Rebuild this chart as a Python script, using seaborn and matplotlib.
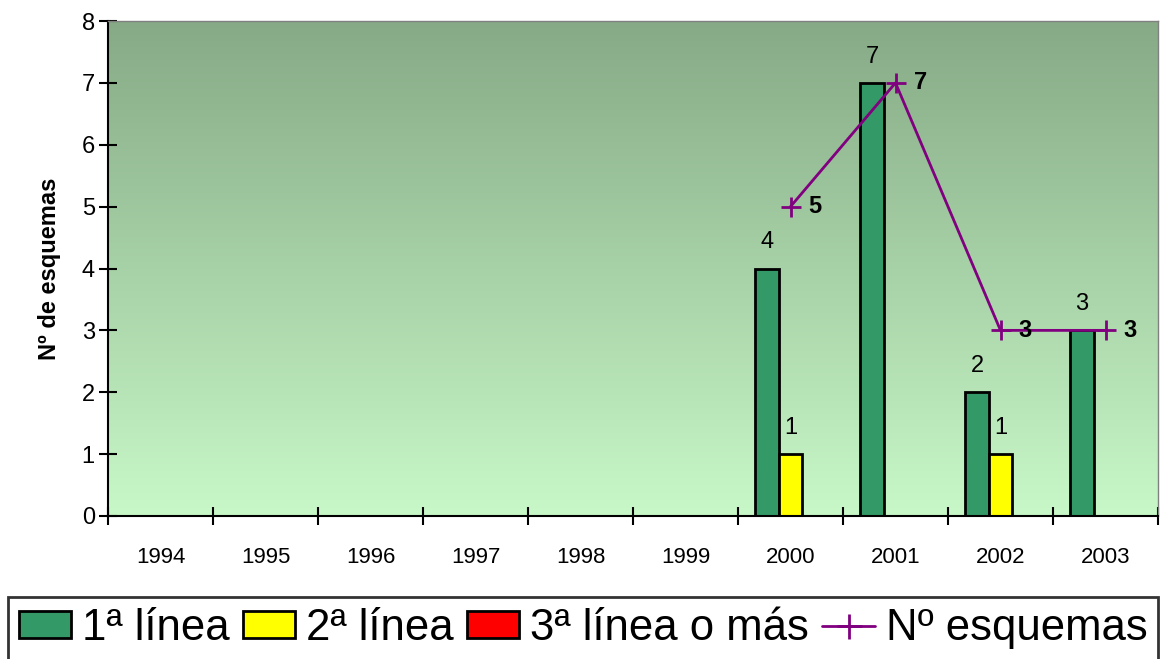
import matplotlib
matplotlib.use('Agg')
import matplotlib.pyplot as plt
import numpy as np
import pandas as pd
import seaborn as sns
from matplotlib.colors import LinearSegmentedColormap
from matplotlib.patches import Patch
from matplotlib.lines import Line2D

years = ['1994', '1995', '1996', '1997', '1998', '1999', '2000', '2001', '2002', '2003']
primera = [0, 0, 0, 0, 0, 0, 4, 7, 2, 3]
segunda = [0, 0, 0, 0, 0, 0, 1, 0, 1, 0]
tercera = [0, 0, 0, 0, 0, 0, 0, 0, 0, 0]
esquemas = [None, None, None, None, None, None, 5, 7, 3, 3]

series = ['1ª línea', '2ª línea', '3ª línea o más']
colors = ['#339966', '#FFFF00', '#FF0000']

sns.set_style('white')
plt.rcParams['font.family'] = ['Liberation Sans', 'DejaVu Sans']
plt.rcParams['text.color'] = 'black'
plt.rcParams['axes.labelcolor'] = 'black'
plt.rcParams['xtick.color'] = 'black'
plt.rcParams['ytick.color'] = 'black'

df = pd.DataFrame({'year': years * 3,
                   'serie': sum([[s] * len(years) for s in series], []),
                   'n': primera + segunda + tercera})

fig = plt.figure(figsize=(11.67, 6.59), dpi=100)
ax = fig.add_axes([108 / 1167, 1 - 516 / 659, 1050 / 1167, 495 / 659])

# gradient background
cmap = LinearSegmentedColormap.from_list('bg', ['#C8F8C8', '#86AA86'])
grad = np.linspace(0, 1, 256).reshape(-1, 1)
ax.imshow(grad, extent=[-0.5, 9.5, 0, 8], origin='lower', aspect='auto', cmap=cmap, zorder=0)

sns.barplot(data=df, x='year', y='n', hue='serie', order=years, hue_order=series,
            palette=colors, width=0.67, edgecolor='black', linewidth=2,
            saturation=1, legend=False, ax=ax, zorder=2)

for cont in ax.containers:
    labels = ['{:d}'.format(int(b.get_height())) if b.get_height() > 0 else '' for b in cont]
    ax.bar_label(cont, labels=labels, padding=11, fontsize=17)

x = np.arange(len(years))
y = np.array([np.nan if v is None else v for v in esquemas], dtype=float)
ax.plot(x, y, color='#800080', marker='+', markersize=14, markeredgewidth=2, lw=2, zorder=3)
for xi, yi in zip(x, y):
    if not np.isnan(yi):
        ax.annotate('{:d}'.format(int(yi)), (xi, yi), xytext=(13, 0), textcoords='offset points',
                    va='center', ha='left', fontsize=17, fontweight='bold')

ax.set_xlim(-0.5, 9.5)
ax.set_ylim(0, 8)
ax.set_yticks(range(0, 9))
ax.set_xticks(x)
ax.set_xticks(np.arange(-0.5, 10, 1), minor=True)
ax.tick_params(axis='x', which='major', bottom=True, length=0, pad=22, labelsize=16)
ax.tick_params(axis='x', which='minor', bottom=True, length=13, width=1.5, direction='inout')
ax.tick_params(axis='y', left=True, length=13, width=1.5, direction='inout', labelsize=17, pad=3)
ax.set_xlabel('')
ax.set_ylabel('Nº de esquemas', fontsize=17, fontweight='bold', labelpad=15)

for s in ['left', 'bottom']:
    ax.spines[s].set_color('black')
    ax.spines[s].set_linewidth(1.5)
for s in ['top', 'right']:
    ax.spines[s].set_color('#808080')
    ax.spines[s].set_linewidth(1)

handles = [Patch(facecolor=c, edgecolor='black', linewidth=2) for c in colors]
handles.append(Line2D([], [], color='#800080', marker='+', markersize=18, markeredgewidth=2, lw=2))
leg = fig.legend(handles, series + ['Nº esquemas'], loc='upper center', bbox_to_anchor=(583 / 1167, 1 - 597 / 659),
                 ncol=4, fontsize=31.5, frameon=True, fancybox=False, edgecolor='black',
                 handlelength=1.2, handleheight=0.56, handletextpad=0.25, columnspacing=0.3,
                 borderpad=0.25, borderaxespad=0)
leg.get_frame().set_linewidth(2)

fig.savefig('out.png', dpi=100, facecolor='white')
